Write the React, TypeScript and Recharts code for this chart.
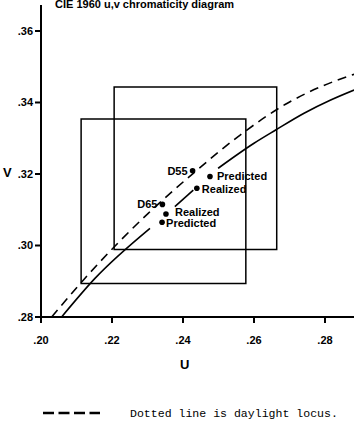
import React from "react";
import {
  ComposedChart,
  Line,
  Scatter,
  XAxis,
  YAxis,
  ReferenceArea,
  LabelList,
} from "recharts";

const U_TICKS = [0.2, 0.22, 0.24, 0.26, 0.28];
const V_TICKS = [0.28, 0.3, 0.32, 0.34, 0.36];

// daylight locus (dashed)
const DAYLIGHT_U = [0.203, 0.2119, 0.2302, 0.2429, 0.2561, 0.2694, 0.2788, 0.2882];
const DAYLIGHT_V = [0.28, 0.2903, 0.309, 0.3202, 0.3309, 0.3398, 0.3444, 0.3479];

// planckian locus (solid), null = break where the labels sit
const PLANCK_U = [0.2058, 0.2152, 0.2307, 0.234, 0.2377, 0.2429, 0.246, 0.2499, 0.26, 0.2661, 0.2741, 0.2816, 0.2882];
const PLANCK_V = [0.28, 0.2908, 0.3048, null, 0.3109, 0.3155, null, 0.3216, 0.3286, 0.3323, 0.337, 0.3407, 0.3435];

const POINT_NAMES = ["D55", "Predicted", "Realized", "D65", "Realized", "Predicted"];
const POINT_U = [0.2427, 0.2476, 0.2439, 0.2342, 0.2352, 0.2341];
const POINT_V = [0.3209, 0.3193, 0.316, 0.3115, 0.3088, 0.3065];

// tolerance boxes [u1, u2, v1, v2]
const BOXES = [
  [0.2206, 0.2664, 0.2989, 0.3443],
  [0.2113, 0.2577, 0.2894, 0.3354],
];

// label nudges [dx, dy] per point
const LABEL_NUDGE = [[-5, 0], [7, 0], [5, 1], [-5, 0], [9, -2], [4, 1]];

const daylight = DAYLIGHT_U.map((u, i) => ({ u, v: DAYLIGHT_V[i] }));
const planckSegments: { u: number; v: number }[][] = [[]];
PLANCK_U.forEach((u, i) => {
  const v = PLANCK_V[i];
  if (v == null) planckSegments.push([]);
  else planckSegments[planckSegments.length - 1].push({ u, v });
});
const points = POINT_NAMES.map((name, i) => ({ name, u: POINT_U[i], v: POINT_V[i] }));

const FONT = "'Liberation Sans', Arial, sans-serif";
const TICK = { fontSize: 11, fontWeight: 700, fill: "#000", fontFamily: FONT };
const fmt = (n: number) => n.toFixed(2).replace(/^0/, "");

function PointLabel(props: any) {
  const { x, y, width, height, value, index } = props;
  const cx = x + width / 2;
  const cy = y + height / 2;
  const [dx, dy] = LABEL_NUDGE[index] || [5, 0];
  return (
    <text
      x={cx + dx}
      y={cy + dy}
      dy="0.35em"
      textAnchor={dx < 0 ? "end" : "start"}
      style={TICK}
    >
      {value}
    </text>
  );
}

export default function App() {
  return (
    <div style={{ position: "absolute", left: 0, top: 0, width: 354, height: 432, background: "#fff" }}>
      <ComposedChart width={354} height={432} margin={{ top: 5, right: 0, bottom: 75, left: 0 }}>
        <XAxis
          type="number"
          dataKey="u"
          domain={[0.2, 0.28817]}
          ticks={U_TICKS}
          tickFormatter={fmt}
          height={40}
          tickSize={6}
          tickMargin={13}
          tick={TICK}
          axisLine={{ stroke: "#000", strokeWidth: 2 }}
          tickLine={{ stroke: "#000", strokeWidth: 2 }}
          allowDataOverflow
        />
        <YAxis
          type="number"
          dataKey="v"
          domain={[0.28, 0.36727]}
          ticks={V_TICKS}
          tickFormatter={fmt}
          width={41}
          tickSize={6}
          tickMargin={2}
          tick={TICK}
          axisLine={{ stroke: "#000", strokeWidth: 2 }}
          tickLine={{ stroke: "#000", strokeWidth: 2 }}
          allowDataOverflow
        />
        {BOXES.map((b, i) => (
          <ReferenceArea
            key={i}
            x1={b[0]}
            x2={b[1]}
            y1={b[2]}
            y2={b[3]}
            fill="none"
            fillOpacity={0}
            stroke="#000"
            strokeWidth={1.5}
            ifOverflow="visible"
          />
        ))}
        <Line
          data={daylight}
          dataKey="v"
          type="monotone"
          stroke="#000"
          strokeWidth={1.6}
          strokeDasharray="9 6"
          dot={false}
          activeDot={false}
          isAnimationActive={false}
        />
        {planckSegments.map((seg, i) => (
          <Line
            key={i}
            data={seg}
            dataKey="v"
            type="monotone"
            stroke="#000"
            strokeWidth={1.6}
            dot={false}
            activeDot={false}
            isAnimationActive={false}
          />
        ))}
        <Scatter
          data={points}
          dataKey="v"
          fill="#000"
          shape={(p: any) => <circle cx={p.cx} cy={p.cy} r={2.8} fill="#000" />}
          isAnimationActive={false}
        >
          <LabelList dataKey="name" content={<PointLabel />} />
        </Scatter>
      </ComposedChart>
      <div
        style={{
          position: "absolute",
          left: 55,
          top: -2,
          fontFamily: FONT,
          fontWeight: 700,
          fontSize: 11,
          whiteSpace: "nowrap",
        }}
      >
        CIE 1960 u,v chromaticity diagram
      </div>
      <div style={{ position: "absolute", left: 3, top: 165, fontFamily: FONT, fontWeight: 700, fontSize: 13 }}>V</div>
      <div style={{ position: "absolute", left: 180, top: 357, fontFamily: FONT, fontWeight: 700, fontSize: 13 }}>U</div>
      <svg width={354} height={20} style={{ position: "absolute", left: 0, top: 403 }}>
        <line x1={43} x2={100} y1={10} y2={10} stroke="#000" strokeWidth={2.5} strokeDasharray="11 4.5" />
        <text x={130} y={10} dy="0.35em" fontSize={11.55} fontFamily="'Liberation Mono', monospace" fill="#000">
          Dotted line is daylight locus.
        </text>
      </svg>
    </div>
  );
}
